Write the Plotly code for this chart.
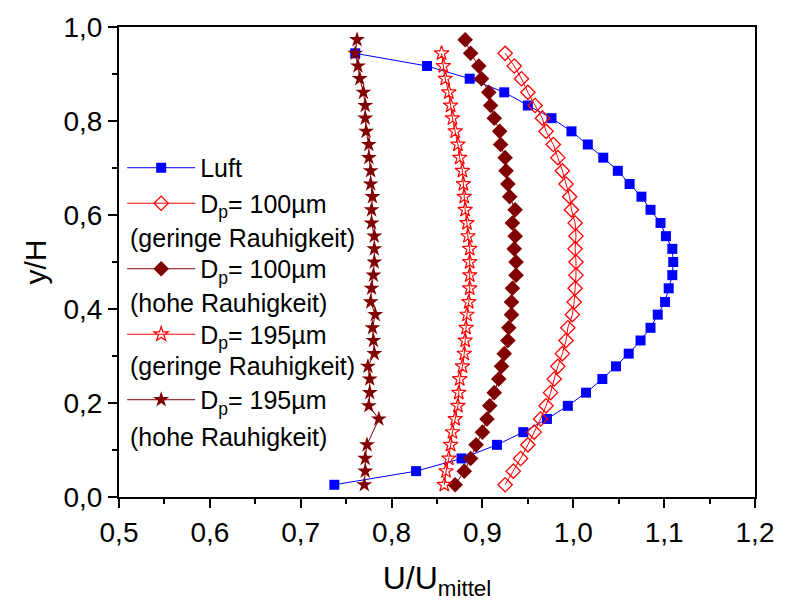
import plotly.graph_objects as go

# ---- data ----
y_luft = [0.026, 0.055, 0.082, 0.111, 0.138, 0.166, 0.194, 0.222, 0.251, 0.278, 0.305, 0.333,
          0.360, 0.388, 0.415, 0.444, 0.472, 0.500, 0.528, 0.555, 0.583, 0.611, 0.639, 0.666,
          0.694, 0.722, 0.750, 0.778, 0.806, 0.833, 0.861, 0.890, 0.917, 0.944]
x_luft = [0.737, 0.827, 0.877, 0.916, 0.945, 0.971, 0.994, 1.014, 1.032, 1.047, 1.061, 1.074,
          1.085, 1.093, 1.101, 1.105, 1.109, 1.110, 1.109, 1.102, 1.096, 1.085, 1.075, 1.062,
          1.049, 1.033, 1.016, 0.998, 0.976, 0.950, 0.924, 0.886, 0.839, 0.760]

y_100_ger = [0.026, 0.055, 0.082, 0.111, 0.138, 0.166, 0.194, 0.222, 0.251, 0.278, 0.305, 0.333,
             0.360, 0.388, 0.415, 0.444, 0.472, 0.500, 0.528, 0.555, 0.583, 0.611, 0.639, 0.666,
             0.694, 0.722, 0.750, 0.778, 0.806, 0.833, 0.861, 0.890, 0.917, 0.944]
x_100_ger = [0.925, 0.934, 0.942, 0.950, 0.957, 0.964, 0.970, 0.975, 0.979, 0.983, 0.988, 0.992,
             0.994, 0.999, 1.001, 1.002, 1.003, 1.003, 1.002, 1.003, 1.002, 0.998, 0.996, 0.992,
             0.988, 0.983, 0.978, 0.970, 0.966, 0.958, 0.950, 0.943, 0.935, 0.925]

y_100_hoh = [0.026, 0.055, 0.082, 0.111, 0.138, 0.166, 0.194, 0.222, 0.251, 0.278, 0.305, 0.333,
             0.360, 0.388, 0.415, 0.444, 0.472, 0.500, 0.528, 0.555, 0.583, 0.611, 0.639, 0.666,
             0.694, 0.722, 0.750, 0.778, 0.806, 0.833, 0.861, 0.890, 0.917, 0.944, 0.973]
x_100_hoh = [0.870, 0.880, 0.887, 0.893, 0.900, 0.905, 0.908, 0.913, 0.918, 0.921, 0.924, 0.928,
             0.929, 0.932, 0.932, 0.933, 0.937, 0.937, 0.935, 0.936, 0.933, 0.936, 0.930, 0.928,
             0.926, 0.925, 0.920, 0.919, 0.913, 0.909, 0.907, 0.899, 0.896, 0.887, 0.881]

y_195_ger = [0.026, 0.055, 0.082, 0.111, 0.138, 0.166, 0.194, 0.222, 0.251, 0.278, 0.305, 0.333,
             0.360, 0.388, 0.415, 0.444, 0.472, 0.500, 0.528, 0.555, 0.583, 0.611, 0.639, 0.666,
             0.694, 0.722, 0.750, 0.778, 0.806, 0.833, 0.861, 0.890, 0.917, 0.944]
x_195_ger = [0.858, 0.860, 0.863, 0.865, 0.867, 0.870, 0.873, 0.874, 0.875, 0.878, 0.880, 0.881,
             0.882, 0.883, 0.885, 0.886, 0.886, 0.886, 0.886, 0.884, 0.883, 0.881, 0.880, 0.879,
             0.878, 0.875, 0.873, 0.870, 0.867, 0.865, 0.863, 0.859, 0.857, 0.855]

y_195_hoh = [0.026, 0.055, 0.082, 0.111, 0.166, 0.194, 0.222, 0.251, 0.278, 0.305, 0.333,
             0.360, 0.388, 0.415, 0.444, 0.472, 0.500, 0.528, 0.555, 0.583, 0.611, 0.639, 0.666,
             0.694, 0.722, 0.750, 0.778, 0.806, 0.833, 0.861, 0.890, 0.917, 0.944, 0.973]
x_195_hoh = [0.770, 0.771, 0.771, 0.773, 0.786, 0.775, 0.776, 0.776, 0.774, 0.781, 0.780,
             0.779, 0.782, 0.777, 0.778, 0.780, 0.781, 0.781, 0.781, 0.778, 0.778, 0.779, 0.777,
             0.777, 0.775, 0.775, 0.772, 0.771, 0.771, 0.769, 0.765, 0.763, 0.760, 0.762]

# legend labels: first line in the legend, second line placed under the symbol
names = ["Luft",
         "D<sub>p</sub>= 100µm",
         "D<sub>p</sub>= 100µm",
         "D<sub>p</sub>= 195µm",
         "D<sub>p</sub>= 195µm"]
second_lines = ["(geringe Rauhigkeit)", "(hohe Rauhigkeit)",
                "(geringe Rauhigkeit)", "(hohe Rauhigkeit)"]
groups = ["g1", "g1", "g2", "g3", "g4"]

BLUE = "#0000FF"
RED = "#FF0000"
DRED = "#800000"
FONT = "Liberation Sans, Arial, sans-serif"

fig = go.Figure()
fig.add_trace(go.Scatter(x=x_luft, y=y_luft, name=names[0], legendgroup=groups[0],
                         mode="lines+markers", line=dict(color=BLUE, width=1),
                         marker=dict(symbol="square", size=10, color=BLUE)))
fig.add_trace(go.Scatter(x=x_100_ger, y=y_100_ger, name=names[1], legendgroup=groups[1],
                         mode="lines+markers", line=dict(color=RED, width=1),
                         marker=dict(symbol="diamond-open", size=11, color=RED,
                                     line=dict(width=1.3, color=RED))))
fig.add_trace(go.Scatter(x=x_100_hoh, y=y_100_hoh, name=names[2], legendgroup=groups[2],
                         mode="lines+markers", line=dict(color=DRED, width=1),
                         marker=dict(symbol="diamond", size=12, color=DRED)))
fig.add_trace(go.Scatter(x=x_195_ger, y=y_195_ger, name=names[3], legendgroup=groups[3],
                         mode="lines+markers", line=dict(color=RED, width=1),
                         marker=dict(symbol="star-open", size=11, color=RED,
                                     line=dict(width=1.2, color=RED))))
fig.add_trace(go.Scatter(x=x_195_hoh, y=y_195_hoh, name=names[4], legendgroup=groups[4],
                         mode="lines+markers", line=dict(color=DRED, width=1),
                         marker=dict(symbol="star", size=12, color=DRED)))

axis_common = dict(showgrid=False, zeroline=False, showline=True, linecolor="black",
                   linewidth=2, mirror=True, ticks="outside", ticklen=9, tickwidth=2,
                   tickcolor="black", tickformat=".1f",
                   tickfont=dict(family=FONT, size=28, color="black"))

fig.update_xaxes(range=[0.5, 1.2], tick0=0.5, dtick=0.1,
                 minor=dict(ticks="outside", ticklen=5, tickwidth=2, tickcolor="black",
                            tick0=0.5, dtick=0.05),
                 title=dict(text="U/U<sub>mittel</sub>", font=dict(family=FONT, size=32, color="black"),
                            standoff=20),
                 **axis_common)
fig.update_yaxes(range=[0, 1], tick0=0, dtick=0.2,
                 minor=dict(ticks="outside", ticklen=5, tickwidth=2, tickcolor="black",
                            tick0=0, dtick=0.1),
                 title=dict(text="y/H", font=dict(family=FONT, size=30, color="black"),
                            standoff=8),
                 **axis_common)

# second legend lines (placed under the legend symbols, as in the reference)
second_y = [0.551, 0.412, 0.278, 0.128]
for txt, yy in zip(second_lines, second_y):
    fig.add_annotation(text=txt, xref="paper", yref="paper", x=0.014, y=yy,
                       xanchor="left", yanchor="middle", showarrow=False,
                       font=dict(family=FONT, size=25, color="black"))

fig.update_layout(
    width=786, height=608,
    margin=dict(l=119, r=23, t=21, b=111),
    paper_bgcolor="white", plot_bgcolor="white",
    separators=",.",
    font=dict(family=FONT, color="black"),
    legend=dict(x=0.005, y=0.749, xanchor="left", yanchor="top",
                bgcolor="rgba(0,0,0,0)", borderwidth=0,
                font=dict(family=FONT, size=25, color="black"),
                traceorder="grouped", tracegroupgap=30,
                valign="top", itemwidth=68),
)

fig.write_html("out.html")
